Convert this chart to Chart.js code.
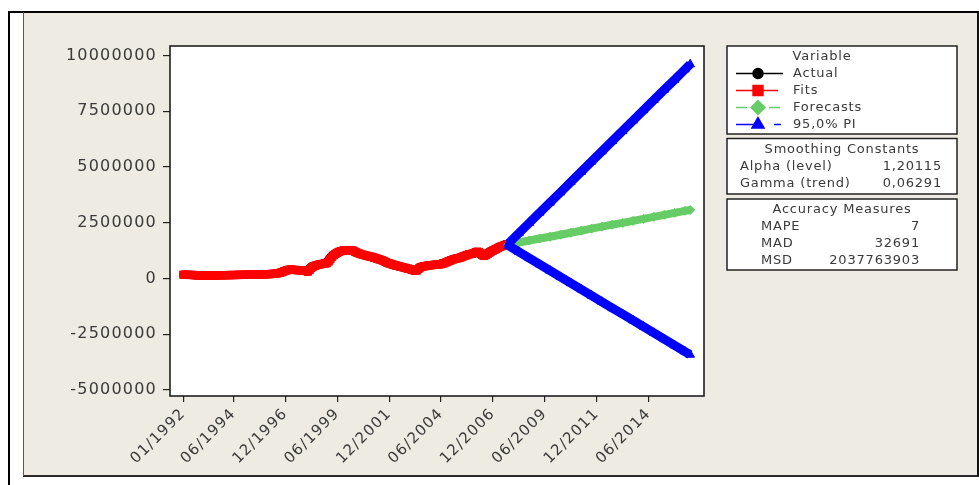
<!DOCTYPE html>
<html>
<head>
<meta charset="utf-8">
<script src="https://cdn.jsdelivr.net/npm/chart.js@4.4.0/dist/chart.umd.min.js"></script>
<style>
  html, body { margin: 0; padding: 0; background: #fff; }
  #page { position: relative; width: 979px; height: 485px; overflow: hidden; }
  #rule { position: absolute; left: 8px; top: 11px; width: 971px; height: 474px;
          border-top: 2px solid #000; border-left: 2px solid #000; box-sizing: border-box; }
  #panel { position: absolute; left: 23px; top: 11px; width: 956px; height: 466px; background: #eeebe2;
           border-top: 2px solid #000; border-right: 2px solid #111; border-bottom: 2px solid #2a2a2a;
           border-left: 1px solid #5a5a5a; box-sizing: border-box; }
  #c { position: absolute; left: 0; top: 0; }
</style>
</head>
<body>
<div id="page">
  <div id="rule"></div>
  <div id="panel"></div>
  <canvas id="c" width="979" height="485"></canvas>
</div>
<script>
// Monthly series, in thousands, starting 01/1992 (period 1)
const actual = [
  170,165,160,158,155,150,148,140,135,130,
  128,130,132,130,128,130,133,135,138,140,
  142,140,143,145,148,150,152,150,153,155,
  158,160,158,162,165,163,166,168,170,172,
  170,173,175,178,180,182,185,188,190,195,
  200,205,212,222,235,255,280,310,340,365,
  390,400,395,385,378,372,368,365,360,352,
  335,305,380,470,530,560,590,610,630,645,
  660,670,690,760,860,960,1040,1100,1150,1190,
  1220,1240,1255,1260,1265,1270,1268,1250,1210,1170,
  1140,1110,1080,1060,1040,1020,1000,985,965,940,
  915,890,865,840,810,780,740,700,675,650,
  625,600,580,560,540,520,500,480,460,440,
  420,395,370,345,360,430,490,520,540,555,
  570,580,590,600,610,615,620,630,645,665,
  690,720,755,790,820,850,875,895,910,930,
  960,990,1020,1050,1075,1095,1110,1130,1170,1200,
  1180,1120,1040,1010,1050,1100,1160,1210,1250,1290,
  1330,1370,1410,1440,1470,1500,1530,1560
];
const fits = [
  170,170,165,160,158,155,150,148,140,135,
  130,128,130,132,130,128,130,133,135,138,
  140,142,140,143,145,148,150,152,150,153,
  155,158,160,158,162,165,163,166,168,170,
  172,170,173,175,178,180,182,185,188,190,
  195,200,205,212,222,235,255,280,310,340,
  365,390,400,395,385,378,372,368,365,360,
  352,335,305,380,470,530,560,590,610,630,
  645,660,670,690,760,860,960,1040,1100,1150,
  1190,1220,1240,1255,1260,1265,1270,1268,1250,1210,
  1170,1140,1110,1080,1060,1040,1020,1000,985,965,
  940,915,890,865,840,810,780,740,700,675,
  650,625,600,580,560,540,520,500,480,460,
  440,420,395,370,345,360,430,490,520,540,
  555,570,580,590,600,610,615,620,630,645,
  665,690,720,755,790,820,850,875,895,910,
  930,960,990,1020,1050,1075,1095,1110,1130,1170,
  1200,1180,1120,1040,1010,1050,1100,1160,1210,1250,
  1290,1330,1370,1410,1440,1470,1500,1530
];

// Forecast horizon (periods) with forecasts and 95% prediction limits, in thousands
const forecastPeriods = [189,195,201,207,213,219,225,231,237,243,249,255,261,267,273,279,285,291,294];
const forecasts = [1520,1610,1700,1790,1870,1960,2050,2140,2230,2320,2410,2490,2580,2670,2760,2850,2940,3030,3070];
const upperPI   = [1570,2030,2490,2950,3400,3860,4320,4780,5240,5700,6160,6620,7080,7540,8000,8460,8910,9370,9600];
const lowerPI   = [1470,1190,910,630,350,70,-210,-490,-770,-1050,-1330,-1600,-1880,-2160,-2440,-2720,-3000,-3280,-3420];

// Axis ticks
const xTickPeriods = [1,30,60,90,120,150,180,210,240,270];
const xTickLabels = ['01/1992','06/1994','12/1996','06/1999','12/2001','06/2004','12/2006','06/2009','12/2011','06/2014'];
const yTicks = [-5000000,-2500000,0,2500000,5000000,7500000,10000000];

// Side panels
const smoothing = [['Alpha (level)','1,20115'],['Gamma (trend)','0,06291']];
const accuracy = [['MAPE','7'],['MAD','32691'],['MSD','2037763903']];

const K = 1000;
const series = (vals, start) => vals.map((v, i) => ({ x: start + i, y: v * K }));
const atPeriods = (vals) => vals.map((v, i) => ({ x: forecastPeriods[i], y: v * K }));

const FONT = 'DejaVu Sans';
const TXT = '#3a3a3a';

const framePlugin = {
  id: 'frame',
  beforeDraw(chart) {
    const { ctx, chartArea: a } = chart;
    ctx.save();
    ctx.fillStyle = '#fff';
    ctx.fillRect(a.left, a.top, a.right - a.left, a.bottom - a.top);
    ctx.restore();
    ctx.letterSpacing = '1.2px';
  },
  afterDatasetsDraw(chart) {
    const { ctx, chartArea: a } = chart;
    ctx.save();
    ctx.strokeStyle = '#111';
    ctx.lineWidth = 1.5;
    ctx.strokeRect(a.left, a.top, a.right - a.left, a.bottom - a.top);
    ctx.restore();
  },
  afterDraw(chart) {
    const ctx = chart.ctx;
    const ds = chart.data.datasets;
    ctx.save();
    ctx.letterSpacing = '0.8px';
    ctx.font = '13px "' + FONT + '"';
    ctx.textBaseline = 'middle';

    const box = (x, y, w, h) => {
      ctx.fillStyle = '#fff';
      ctx.fillRect(x, y, w, h);
      ctx.strokeStyle = '#222';
      ctx.lineWidth = 1.5;
      ctx.strokeRect(x, y, w, h);
    };
    const text = (s, x, y, align) => {
      ctx.fillStyle = TXT;
      ctx.textAlign = align;
      ctx.fillText(s, x, y);
    };
    const seg = (x1, x2, y, color, w) => {
      ctx.strokeStyle = color; ctx.lineWidth = w;
      ctx.beginPath(); ctx.moveTo(x1, y); ctx.lineTo(x2, y); ctx.stroke();
    };
    const mark = (d, x, y, r) => {
      ctx.fillStyle = d.backgroundColor;
      ctx.strokeStyle = d.backgroundColor;
      Chart.helpers.drawPoint(ctx, { pointStyle: d.pointStyle, radius: r, rotation: 0, borderWidth: 1 }, x, y);
    };

    // Variable legend
    box(727, 46, 230, 88);
    text('Variable', 822, 57, 'center');
    const rows = [73.5, 90.5, 107.5, 124.5];
    // Actual
    seg(736, 783, rows[0], ds[0].borderColor, 1.5);
    mark(ds[0], 758, rows[0], 5);
    // Fits
    seg(736, 778, rows[1], ds[1].borderColor, 1.5);
    mark(ds[1], 758, rows[1], 7);
    // Forecasts (dashed)
    seg(736, 747, rows[2], ds[2].borderColor, 1.5);
    seg(769, 780, rows[2], ds[2].borderColor, 1.5);
    mark(ds[2], 758, rows[2], 7);
    // Prediction interval
    seg(736, 757, rows[3], ds[3].borderColor, 1.5);
    seg(774, 781, rows[3], ds[3].borderColor, 1.5);
    mark(ds[3], 758, rows[3], 7);
    [ds[0].label, ds[1].label, ds[2].label, ds[3].label].forEach((l, i) => text(l, 793, rows[i], 'left'));

    // Smoothing constants
    box(727, 138.5, 230, 55.5);
    text('Smoothing Constants', 842, 149.5, 'center');
    smoothing.forEach(([k, v], i) => {
      text(k, 740, 166.5 + i * 16.7, 'left');
      text(v, 942, 166.5 + i * 16.7, 'right');
    });

    // Accuracy measures
    box(727, 199, 230, 71);
    text('Accuracy Measures', 842, 210, 'center');
    accuracy.forEach(([k, v], i) => {
      text(k, 761, 227 + i * 16.7, 'left');
      text(v, 920, 227 + i * 16.7, 'right');
    });
    ctx.restore();
  }
};

new Chart(document.getElementById('c'), {
  type: 'line',
  data: {
    datasets: [
      { label: 'Actual', data: series(actual, 1), borderColor: '#000', backgroundColor: '#000',
        borderWidth: 2, pointStyle: 'circle', pointRadius: 4, pointBorderWidth: 0, order: 4 },
      { label: 'Fits', data: series(fits, 1), borderColor: '#ff0000', backgroundColor: '#ff0000',
        borderWidth: 4, pointStyle: 'rect', pointRadius: 5.2, pointBorderWidth: 1, order: 3 },
      { label: 'Forecasts', data: atPeriods(forecasts), borderColor: '#66cc66', backgroundColor: '#66cc66',
        borderWidth: 8, pointStyle: 'rectRot', pointRadius: 4.5, pointBorderWidth: 1, order: 2 },
      { label: '95,0% PI', data: atPeriods(upperPI), borderColor: '#0000ff', backgroundColor: '#0000ff',
        borderWidth: 9, pointStyle: 'triangle', pointRadius: 5, pointBorderWidth: 1, order: 1 },
      { label: '95,0% PI', data: atPeriods(lowerPI), borderColor: '#0000ff', backgroundColor: '#0000ff',
        borderWidth: 9, pointStyle: 'triangle', pointRadius: 5, pointBorderWidth: 1, order: 1 }
    ]
  },
  options: {
    responsive: false,
    devicePixelRatio: 1,
    animation: false,
    parsing: true,
    layout: { padding: { left: 0, top: 46, right: 275, bottom: 0 } },
    elements: { line: { tension: 0 } },
    plugins: { legend: { display: false }, tooltip: { enabled: false } },
    scales: {
      x: {
        type: 'linear', min: -6.7, max: 302,
        afterBuildTicks: s => { s.ticks = xTickPeriods.map(v => ({ value: v })); },
        afterFit: s => { s.height = 89; s.paddingLeft = 0; s.paddingRight = 0; },
        ticks: {
          autoSkip: false, minRotation: 45, maxRotation: 45, padding: 3, color: TXT,
          font: { family: FONT, size: 15 },
          callback: v => { const i = xTickPeriods.indexOf(v); return i < 0 ? '' : xTickLabels[i]; }
        },
        grid: { drawOnChartArea: false, drawTicks: true, tickLength: 6, color: '#222', lineWidth: 1.2 },
        border: { display: false }
      },
      y: {
        min: -5270000, max: 10420000,
        afterBuildTicks: s => { s.ticks = yTicks.map(v => ({ value: v })); },
        afterFit: s => { s.width = 170; s.paddingTop = 0; s.paddingBottom = 0; },
        ticks: {
          padding: 6, color: TXT, font: { family: FONT, size: 16 },
          callback: v => String(v)
        },
        grid: { drawOnChartArea: false, drawTicks: true, tickLength: 7, color: '#222', lineWidth: 1.2 },
        border: { display: false }
      }
    }
  },
  plugins: [framePlugin]
});
</script>
</body>
</html>
